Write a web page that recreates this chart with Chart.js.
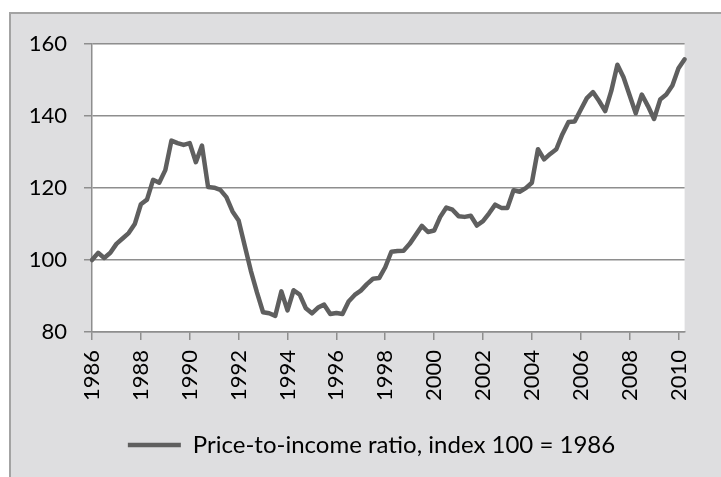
<!DOCTYPE html>
<html>
<head>
<meta charset="utf-8">
<script src="https://cdn.jsdelivr.net/npm/chart.js@4.4.1/dist/chart.umd.min.js"></script>
<style>
    html, body { margin: 0; padding: 0; background: #ffffff; overflow: hidden; }
    #frame {
        position: absolute;
        left: 9px;
        top: 12px;
        width: 710px;
        height: 463px;
        background: #dedee0;
        border-left: 2px solid #a3a3a3;
        border-top: 2px solid #a3a3a3;
    }
    #chart { display: block; }
</style>
</head>
<body>
<div id="frame"><canvas id="chart" width="710" height="463"></canvas></div>
<script>
// quarterly series, 1986 Q1 .. 2010 Q2
const firstYear = 1986;
const lastYear = 2010;
const lastQuarter = 2;
const seriesName = 'Price-to-income ratio, index 100 = 1986';

const ratioValues = [
    100, 102, 100.6, 102, 104.5, 106, 107.5, 110,          // 1986-87
    115.5, 116.8, 122.3, 121.5, 125, 133.2, 132.5, 132,    // 1988-89
    132.5, 127.2, 131.8, 120.3, 120.1, 119.5, 117.5, 113.5,// 1990-91
    111, 104, 97, 91, 85.5, 85.2, 84.5, 91.3,              // 1992-93
    86, 91.6, 90.4, 86.6, 85.2, 86.8, 87.6, 85,            // 1994-95
    85.3, 85, 88.5, 90.3, 91.5, 93.3, 94.8, 95,            // 1996-97
    98, 102.3, 102.5, 102.6, 104.5, 107, 109.5, 107.8,     // 1998-99
    108.2, 112, 114.6, 114, 112.2, 112, 112.3, 109.6,      // 2000-01
    110.8, 113, 115.4, 114.5, 114.5, 119.4, 119, 120,      // 2002-03
    121.5, 130.8, 128, 129.5, 130.8, 135, 138.4, 138.5,    // 2004-05
    141.8, 145, 146.7, 144.2, 141.4, 147, 154.3, 150.8,    // 2006-07
    145.8, 140.8, 146, 142.8, 139.2, 144.6, 146, 148.5,    // 2008-09
    153.3, 155.8                                           // 2010
];

const yTicks = [80, 100, 120, 140, 160];
const labelEvery = 8; // one label every two years

const quarterLabels = [];
for (let y = firstYear; y <= lastYear; y++) {
    for (let q = 1; q <= 4; q++) {
        if (y === lastYear && q > lastQuarter) break;
        quarterLabels.push(String(y));
    }
}

const axisGray = '#8e8e8e';
const lineGray = '#5f5f5f';
const fontFamily = 'Lato, "Open Sans", sans-serif';

const plotBackground = {
    id: 'plotBackground',
    beforeDraw(chart) {
        const { ctx, chartArea } = chart;
        ctx.save();
        ctx.fillStyle = '#ffffff';
        ctx.fillRect(chartArea.left, chartArea.top,
            chartArea.right - chartArea.left, chartArea.bottom - chartArea.top);
        ctx.restore();
    }
};

// the legend sits a little right of the canvas centre in the original
const legendShift = {
    id: 'legendShift',
    afterLayout(chart) {
        chart.legend.left += 9;
        chart.legend.right += 9;
    }
};

new Chart(document.getElementById('chart'), {
    type: 'line',
    data: {
        labels: quarterLabels,
        datasets: [{
            label: seriesName,
            data: ratioValues,
            borderColor: lineGray,
            backgroundColor: lineGray,
            borderWidth: 4.5,
            borderCapStyle: 'round',
            borderJoinStyle: 'round',
            pointRadius: 0,
            pointHoverRadius: 0,
            tension: 0,
            fill: false
        }]
    },
    options: {
        responsive: false,
        animation: false,
        events: [],
        layout: {
            padding: { left: 16, right: 23, top: 28, bottom: 10 }
        },
        scales: {
            x: {
                type: 'category',
                offset: false,
                afterFit(scale) { scale.height = 91; },
                grid: {
                    drawOnChartArea: false,
                    drawTicks: true,
                    tickLength: 8,
                    lineWidth: 1.5,
                    color: (ctx) => (ctx.index % labelEvery === 0 ? axisGray : 'rgba(0,0,0,0)')
                },
                border: { display: true, color: axisGray, width: 1.5 },
                ticks: {
                    autoSkip: false,
                    minRotation: 90,
                    maxRotation: 90,
                    padding: 10,
                    color: '#000000',
                    font: { family: fontFamily, size: 22 },
                    callback: function(value, index) {
                        return index % labelEvery === 0 ? this.getLabelForValue(value) : '';
                    }
                }
            },
            y: {
                min: yTicks[0],
                max: yTicks[yTicks.length - 1],
                afterFit(scale) { scale.width = 65; },
                afterBuildTicks(scale) {
                    scale.ticks = yTicks.map(v => ({ value: v }));
                },
                grid: {
                    color: axisGray,
                    lineWidth: 1.5,
                    drawTicks: true,
                    tickLength: 8
                },
                border: { display: true, color: axisGray, width: 1.5 },
                ticks: {
                    padding: 17,
                    color: '#000000',
                    font: { family: fontFamily, size: 22 }
                }
            }
        },
        plugins: {
            legend: {
                display: true,
                position: 'bottom',
                labels: {
                    usePointStyle: true,
                    pointStyle: 'line',
                    pointStyleWidth: 53,
                    padding: 10,
                    color: '#000000',
                    font: { family: fontFamily, size: 24 }
                }
            },
            tooltip: { enabled: false }
        }
    },
    plugins: [plotBackground, legendShift]
});
</script>
</body>
</html>
